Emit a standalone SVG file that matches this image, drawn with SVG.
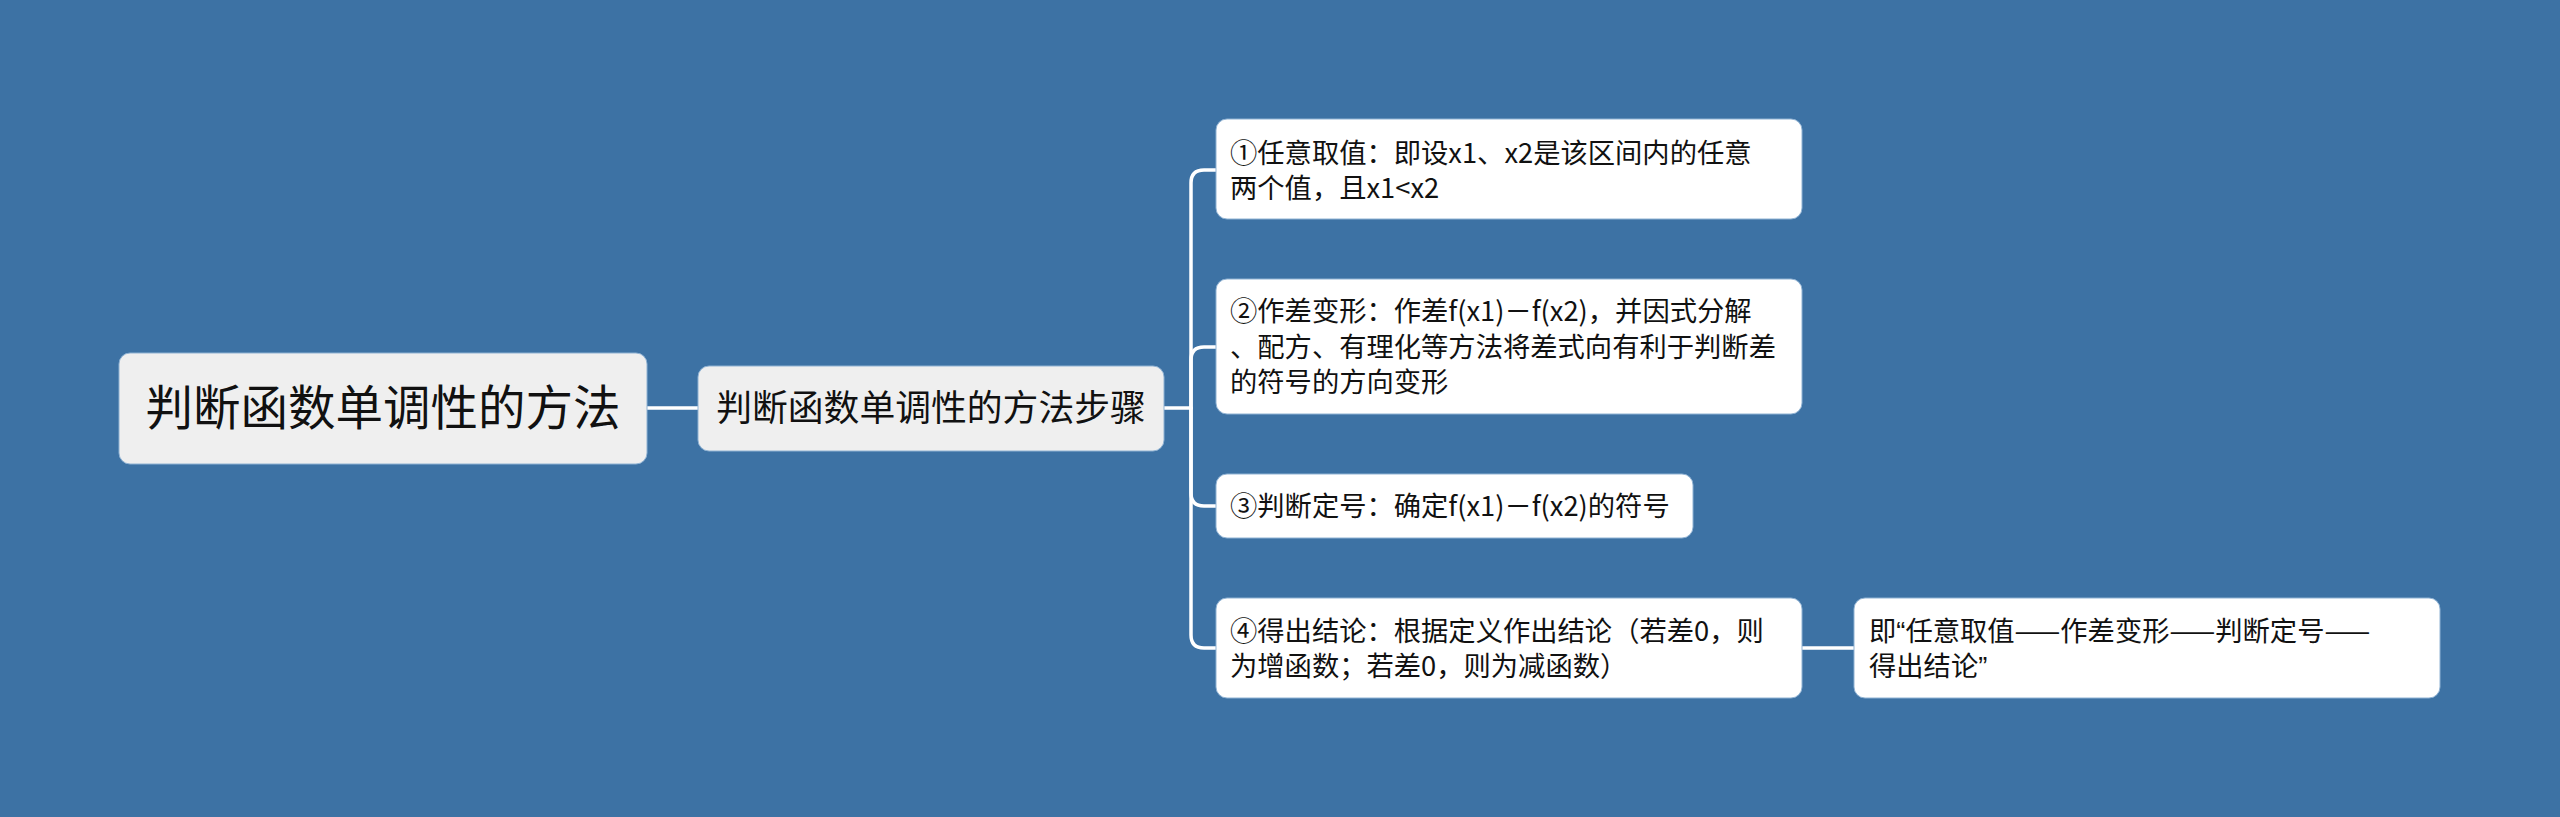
<svg xmlns="http://www.w3.org/2000/svg" width="2560" height="817" viewBox="0 0 2560 817">
<style>
.bg{fill:#3d72a4}
.box{fill:#ffffff;stroke:#8fb2d3;stroke-width:1}
.grey{fill:#efefef}
.t{font-family:"Noto Sans CJK SC","Noto Sans",sans-serif;fill:#111111}
.leaf{font-size:27.3px}
.q{font-family:"Liberation Sans",sans-serif}
.conn{fill:none;stroke:#ffffff;stroke-width:3.5;stroke-linecap:round}
</style>
<rect class="bg" x="0" y="0" width="2560" height="817"/>
<g id="connectors">
<path class="conn" d="M647,408 H698"/>
<path class="conn" d="M1164,408 H1191"/>
<path class="conn" d="M1191,408 V183 Q1191,170 1204,170 H1216"/>
<path class="conn" d="M1191,408 V360 Q1191,347 1204,347 H1216"/>
<path class="conn" d="M1191,408 V493 Q1191,506 1204,506 H1216"/>
<path class="conn" d="M1191,408 V635 Q1191,648 1204,648 H1216"/>
<path class="conn" d="M1802,648 H1854"/>
</g>
<g id="root">
<rect class="box grey" x="119" y="353" width="528" height="111" rx="11"/>
<text class="t" x="383" y="425" font-size="47.5" text-anchor="middle" fill="#222">判断函数单调性的方法</text>
</g>
<g id="main">
<rect class="box grey" x="698" y="366" width="466" height="85" rx="11"/>
<text class="t" x="931" y="421" font-size="35.8" text-anchor="middle">判断函数单调性的方法步骤</text>
</g>
<g id="step1">
<rect class="box" x="1216" y="119" width="586" height="100" rx="11"/>
<text class="t leaf" x="1230" y="163">①任意取值：即设x1、x2是该区间内的任意</text>
<text class="t leaf" x="1230" y="198">两个值，且x1&lt;x2</text>
</g>
<g id="step2">
<rect class="box" x="1216" y="279" width="586" height="135" rx="11"/>
<text class="t leaf" x="1230" y="321">②作差变形：作差f(x1)－f(x2)，并因式分解</text>
<text class="t leaf" x="1230" y="357">、配方、有理化等方法将差式向有利于判断差</text>
<text class="t leaf" x="1230" y="392">的符号的方向变形</text>
</g>
<g id="step3">
<rect class="box" x="1216" y="474" width="477" height="64" rx="11"/>
<text class="t leaf" x="1230" y="516">③判断定号：确定f(x1)－f(x2)的符号</text>
</g>
<g id="step4">
<rect class="box" x="1216" y="598" width="586" height="100" rx="11"/>
<text class="t leaf" x="1230" y="641">④得出结论：根据定义作出结论（若差0，则</text>
<text class="t leaf" x="1230" y="676">为增函数；若差0，则为减函数）</text>
</g>
<g id="summary">
<rect class="box" x="1854" y="598" width="586" height="100" rx="11"/>
<text class="t leaf" x="1869" y="641">即<tspan class="q">“</tspan>任意取值——作差变形——判断定号——</text>
<text class="t leaf" x="1869" y="676">得出结论<tspan class="q">”</tspan></text>
</g>
</svg>
